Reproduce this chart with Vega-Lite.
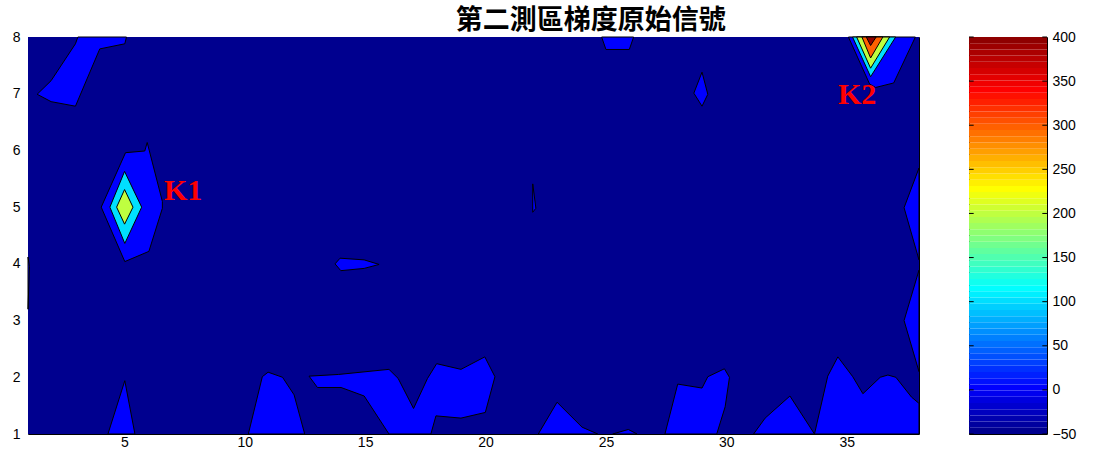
{
  "$schema": "https://vega.github.io/schema/vega-lite/v6.json",
  "padding": {"left": 11, "top": 6, "right": 0, "bottom": 0},
  "background": "white",
  "title": {
    "text": "第二測區梯度原始信號",
    "font": "Noto Sans CJK TC",
    "fontSize": 27,
    "fontWeight": "bold",
    "color": "black",
    "anchor": "start",
    "frame": "bounds",
    "dx": 444,
    "offset": -5
  },
  "datasets": {
    "contours": [
      {"p": "B0", "i": 0, "x": 1, "y": 1, "lvl": -50},
      {"p": "B0", "i": 1, "x": 38, "y": 1, "lvl": -50},
      {"p": "B0", "i": 2, "x": 38, "y": 8, "lvl": -50},
      {"p": "B0", "i": 3, "x": 1, "y": 8, "lvl": -50},

      {"p": "P1", "i": 0, "x": 3.07, "y": 8, "lvl": 0},
      {"p": "P1", "i": 1, "x": 2.97, "y": 7.88, "lvl": 0},
      {"p": "P1", "i": 2, "x": 1.96, "y": 7.23, "lvl": 0},
      {"p": "P1", "i": 3, "x": 1.38, "y": 6.99, "lvl": 0},
      {"p": "P1", "i": 4, "x": 1.96, "y": 6.86, "lvl": 0},
      {"p": "P1", "i": 5, "x": 2.97, "y": 6.78, "lvl": 0},
      {"p": "P1", "i": 6, "x": 3.98, "y": 7.79, "lvl": 0},
      {"p": "P1", "i": 7, "x": 5.02, "y": 7.88, "lvl": 0},
      {"p": "P1", "i": 8, "x": 5.09, "y": 8, "lvl": 0},

      {"p": "P2", "i": 0, "x": 5.05, "y": 5.96, "lvl": 0},
      {"p": "P2", "i": 1, "x": 5.85, "y": 5.99, "lvl": 0},
      {"p": "P2", "i": 2, "x": 5.95, "y": 6.14, "lvl": 0},
      {"p": "P2", "i": 3, "x": 6.58, "y": 5.1, "lvl": 0},
      {"p": "P2", "i": 4, "x": 6.58, "y": 4.98, "lvl": 0},
      {"p": "P2", "i": 5, "x": 6.02, "y": 4.22, "lvl": 0},
      {"p": "P2", "i": 6, "x": 5.02, "y": 4.04, "lvl": 0},
      {"p": "P2", "i": 7, "x": 4.04, "y": 5.0, "lvl": 0},

      {"p": "P3", "i": 0, "x": 4.32, "y": 1, "lvl": 0},
      {"p": "P3", "i": 1, "x": 5.02, "y": 1.94, "lvl": 0},
      {"p": "P3", "i": 2, "x": 5.44, "y": 1, "lvl": 0},

      {"p": "P4", "i": 0, "x": 10.15, "y": 1, "lvl": 0},
      {"p": "P4", "i": 1, "x": 10.73, "y": 2.01, "lvl": 0},
      {"p": "P4", "i": 2, "x": 10.97, "y": 2.09, "lvl": 0},
      {"p": "P4", "i": 3, "x": 11.57, "y": 2.0, "lvl": 0},
      {"p": "P4", "i": 4, "x": 12.05, "y": 1.69, "lvl": 0},
      {"p": "P4", "i": 5, "x": 12.49, "y": 1, "lvl": 0},

      {"p": "P5", "i": 0, "x": 12.67, "y": 2.02, "lvl": 0},
      {"p": "P5", "i": 1, "x": 13.9, "y": 2.05, "lvl": 0},
      {"p": "P5", "i": 2, "x": 15.99, "y": 2.14, "lvl": 0},
      {"p": "P5", "i": 3, "x": 16.37, "y": 1.98, "lvl": 0},
      {"p": "P5", "i": 4, "x": 17.01, "y": 1.45, "lvl": 0},
      {"p": "P5", "i": 5, "x": 17.59, "y": 1.98, "lvl": 0},
      {"p": "P5", "i": 6, "x": 17.97, "y": 2.24, "lvl": 0},
      {"p": "P5", "i": 7, "x": 18.98, "y": 2.14, "lvl": 0},
      {"p": "P5", "i": 8, "x": 19.97, "y": 2.36, "lvl": 0},
      {"p": "P5", "i": 9, "x": 20.39, "y": 2.01, "lvl": 0},
      {"p": "P5", "i": 10, "x": 19.99, "y": 1.38, "lvl": 0},
      {"p": "P5", "i": 11, "x": 18.98, "y": 1.28, "lvl": 0},
      {"p": "P5", "i": 12, "x": 17.94, "y": 1.32, "lvl": 0},
      {"p": "P5", "i": 13, "x": 17.73, "y": 1, "lvl": 0},
      {"p": "P5", "i": 14, "x": 15.99, "y": 1, "lvl": 0},
      {"p": "P5", "i": 15, "x": 14.96, "y": 1.67, "lvl": 0},
      {"p": "P5", "i": 16, "x": 14.0, "y": 1.82, "lvl": 0},
      {"p": "P5", "i": 17, "x": 13.02, "y": 1.82, "lvl": 0},

      {"p": "P6", "i": 0, "x": 22.19, "y": 1, "lvl": 0},
      {"p": "P6", "i": 1, "x": 22.97, "y": 1.56, "lvl": 0},
      {"p": "P6", "i": 2, "x": 24.01, "y": 1.12, "lvl": 0},
      {"p": "P6", "i": 3, "x": 24.66, "y": 1, "lvl": 0},

      {"p": "P7", "i": 0, "x": 25.28, "y": 1, "lvl": 0},
      {"p": "P7", "i": 1, "x": 25.93, "y": 1.08, "lvl": 0},
      {"p": "P7", "i": 2, "x": 26.29, "y": 1, "lvl": 0},

      {"p": "P8", "i": 0, "x": 27.45, "y": 1, "lvl": 0},
      {"p": "P8", "i": 1, "x": 27.98, "y": 1.88, "lvl": 0},
      {"p": "P8", "i": 2, "x": 28.99, "y": 1.81, "lvl": 0},
      {"p": "P8", "i": 3, "x": 29.23, "y": 2.01, "lvl": 0},
      {"p": "P8", "i": 4, "x": 29.92, "y": 2.15, "lvl": 0},
      {"p": "P8", "i": 5, "x": 30.13, "y": 2.0, "lvl": 0},
      {"p": "P8", "i": 6, "x": 29.95, "y": 1.48, "lvl": 0},
      {"p": "P8", "i": 7, "x": 29.6, "y": 1, "lvl": 0},

      {"p": "P9", "i": 0, "x": 31.13, "y": 1, "lvl": 0},
      {"p": "P9", "i": 1, "x": 31.61, "y": 1.28, "lvl": 0},
      {"p": "P9", "i": 2, "x": 32.64, "y": 1.67, "lvl": 0},
      {"p": "P9", "i": 3, "x": 33.66, "y": 1, "lvl": 0},

      {"p": "P10", "i": 0, "x": 33.66, "y": 1, "lvl": 0},
      {"p": "P10", "i": 1, "x": 34.21, "y": 2.02, "lvl": 0},
      {"p": "P10", "i": 2, "x": 34.63, "y": 2.36, "lvl": 0},
      {"p": "P10", "i": 3, "x": 35.25, "y": 2.01, "lvl": 0},
      {"p": "P10", "i": 4, "x": 35.67, "y": 1.71, "lvl": 0},
      {"p": "P10", "i": 5, "x": 36.39, "y": 2.0, "lvl": 0},
      {"p": "P10", "i": 6, "x": 36.71, "y": 2.04, "lvl": 0},
      {"p": "P10", "i": 7, "x": 37.04, "y": 2.0, "lvl": 0},
      {"p": "P10", "i": 8, "x": 37.69, "y": 1.65, "lvl": 0},
      {"p": "P10", "i": 9, "x": 38, "y": 1.54, "lvl": 0},
      {"p": "P10", "i": 10, "x": 38, "y": 1, "lvl": 0},

      {"p": "P11", "i": 0, "x": 38, "y": 5.69, "lvl": 0},
      {"p": "P11", "i": 1, "x": 37.38, "y": 4.99, "lvl": 0},
      {"p": "P11", "i": 2, "x": 38, "y": 4.07, "lvl": 0},

      {"p": "P12", "i": 0, "x": 38, "y": 3.89, "lvl": 0},
      {"p": "P12", "i": 1, "x": 37.38, "y": 3.0, "lvl": 0},
      {"p": "P12", "i": 2, "x": 38, "y": 2.1, "lvl": 0},

      {"p": "P13", "i": 0, "x": 13.75, "y": 4.0, "lvl": 0},
      {"p": "P13", "i": 1, "x": 13.96, "y": 4.1, "lvl": 0},
      {"p": "P13", "i": 2, "x": 14.96, "y": 4.07, "lvl": 0},
      {"p": "P13", "i": 3, "x": 15.58, "y": 3.99, "lvl": 0},
      {"p": "P13", "i": 4, "x": 14.96, "y": 3.92, "lvl": 0},
      {"p": "P13", "i": 5, "x": 13.99, "y": 3.88, "lvl": 0},

      {"p": "P14", "i": 0, "x": 21.96, "y": 5.41, "lvl": 0},
      {"p": "P14", "i": 1, "x": 22.09, "y": 4.98, "lvl": 0},
      {"p": "P14", "i": 2, "x": 21.96, "y": 4.91, "lvl": 0},

      {"p": "P15", "i": 0, "x": 24.82, "y": 8, "lvl": 0},
      {"p": "P15", "i": 1, "x": 25.0, "y": 7.78, "lvl": 0},
      {"p": "P15", "i": 2, "x": 25.97, "y": 7.78, "lvl": 0},
      {"p": "P15", "i": 3, "x": 26.15, "y": 8, "lvl": 0},

      {"p": "P16", "i": 0, "x": 28.99, "y": 7.38, "lvl": 0},
      {"p": "P16", "i": 1, "x": 29.23, "y": 6.99, "lvl": 0},
      {"p": "P16", "i": 2, "x": 28.99, "y": 6.78, "lvl": 0},
      {"p": "P16", "i": 3, "x": 28.65, "y": 7.01, "lvl": 0},

      {"p": "P17", "i": 0, "x": 35.07, "y": 8, "lvl": 0},
      {"p": "P17", "i": 1, "x": 35.95, "y": 7.17, "lvl": 0},
      {"p": "P17", "i": 2, "x": 36.2, "y": 7.11, "lvl": 0},
      {"p": "P17", "i": 3, "x": 36.95, "y": 7.19, "lvl": 0},
      {"p": "P17", "i": 4, "x": 37.85, "y": 8, "lvl": 0},

      {"p": "P18", "i": 0, "x": 1, "y": 4.12, "lvl": 0},
      {"p": "P18", "i": 1, "x": 1.06, "y": 3.95, "lvl": 0},
      {"p": "P18", "i": 2, "x": 1, "y": 3.2, "lvl": 0},

      {"p": "C1", "i": 0, "x": 5.01, "y": 5.63, "lvl": 100},
      {"p": "C1", "i": 1, "x": 5.72, "y": 5.0, "lvl": 100},
      {"p": "C1", "i": 2, "x": 5.02, "y": 4.36, "lvl": 100},
      {"p": "C1", "i": 3, "x": 4.4, "y": 5.0, "lvl": 100},

      {"p": "C2", "i": 0, "x": 35.24, "y": 8, "lvl": 100},
      {"p": "C2", "i": 1, "x": 35.99, "y": 7.3, "lvl": 100},
      {"p": "C2", "i": 2, "x": 37.03, "y": 8, "lvl": 100},

      {"p": "Y1", "i": 0, "x": 5.01, "y": 5.31, "lvl": 200},
      {"p": "Y1", "i": 1, "x": 5.36, "y": 5.0, "lvl": 200},
      {"p": "Y1", "i": 2, "x": 5.01, "y": 4.7, "lvl": 200},
      {"p": "Y1", "i": 3, "x": 4.68, "y": 5.0, "lvl": 200},

      {"p": "Y2", "i": 0, "x": 35.41, "y": 8, "lvl": 200},
      {"p": "Y2", "i": 1, "x": 35.99, "y": 7.45, "lvl": 200},
      {"p": "Y2", "i": 2, "x": 36.78, "y": 8, "lvl": 200},

      {"p": "O1", "i": 0, "x": 35.63, "y": 8, "lvl": 300},
      {"p": "O1", "i": 1, "x": 35.99, "y": 7.63, "lvl": 300},
      {"p": "O1", "i": 2, "x": 36.5, "y": 8, "lvl": 300},

      {"p": "R1", "i": 0, "x": 35.81, "y": 8, "lvl": 400},
      {"p": "R1", "i": 1, "x": 35.99, "y": 7.85, "lvl": 400},
      {"p": "R1", "i": 2, "x": 36.22, "y": 8, "lvl": 400}
    ],
    "labels": [
      {"t": "K1", "x": 7.44, "y": 5.29},
      {"t": "K2", "x": 35.43, "y": 6.98}
    ],
    "cticks": [
      {"v": -50}, {"v": 0}, {"v": 50}, {"v": 100}, {"v": 150},
      {"v": 200}, {"v": 250}, {"v": 300}, {"v": 350}, {"v": 400}
    ],
    "bands": [
      {"lo": -50, "hi": -42.97}, {"lo": -42.97, "hi": -35.94}, {"lo": -35.94, "hi": -28.91}, {"lo": -28.91, "hi": -21.88},
      {"lo": -21.88, "hi": -14.84}, {"lo": -14.84, "hi": -7.81}, {"lo": -7.81, "hi": -0.78}, {"lo": -0.78, "hi": 6.25},
      {"lo": 6.25, "hi": 13.28}, {"lo": 13.28, "hi": 20.31}, {"lo": 20.31, "hi": 27.34}, {"lo": 27.34, "hi": 34.38},
      {"lo": 34.38, "hi": 41.41}, {"lo": 41.41, "hi": 48.44}, {"lo": 48.44, "hi": 55.47}, {"lo": 55.47, "hi": 62.5},
      {"lo": 62.5, "hi": 69.53}, {"lo": 69.53, "hi": 76.56}, {"lo": 76.56, "hi": 83.59}, {"lo": 83.59, "hi": 90.63},
      {"lo": 90.63, "hi": 97.66}, {"lo": 97.66, "hi": 104.69}, {"lo": 104.69, "hi": 111.72}, {"lo": 111.72, "hi": 118.75},
      {"lo": 118.75, "hi": 125.78}, {"lo": 125.78, "hi": 132.81}, {"lo": 132.81, "hi": 139.84}, {"lo": 139.84, "hi": 146.88},
      {"lo": 146.88, "hi": 153.91}, {"lo": 153.91, "hi": 160.94}, {"lo": 160.94, "hi": 167.97}, {"lo": 167.97, "hi": 175},
      {"lo": 175, "hi": 182.03}, {"lo": 182.03, "hi": 189.06}, {"lo": 189.06, "hi": 196.09}, {"lo": 196.09, "hi": 203.13},
      {"lo": 203.13, "hi": 210.16}, {"lo": 210.16, "hi": 217.19}, {"lo": 217.19, "hi": 224.22}, {"lo": 224.22, "hi": 231.25},
      {"lo": 231.25, "hi": 238.28}, {"lo": 238.28, "hi": 245.31}, {"lo": 245.31, "hi": 252.34}, {"lo": 252.34, "hi": 259.38},
      {"lo": 259.38, "hi": 266.41}, {"lo": 266.41, "hi": 273.44}, {"lo": 273.44, "hi": 280.47}, {"lo": 280.47, "hi": 287.5},
      {"lo": 287.5, "hi": 294.53}, {"lo": 294.53, "hi": 301.56}, {"lo": 301.56, "hi": 308.59}, {"lo": 308.59, "hi": 315.63},
      {"lo": 315.63, "hi": 322.66}, {"lo": 322.66, "hi": 329.69}, {"lo": 329.69, "hi": 336.72}, {"lo": 336.72, "hi": 343.75},
      {"lo": 343.75, "hi": 350.78}, {"lo": 350.78, "hi": 357.81}, {"lo": 357.81, "hi": 364.84}, {"lo": 364.84, "hi": 371.88},
      {"lo": 371.88, "hi": 378.91}, {"lo": 378.91, "hi": 385.94}, {"lo": 385.94, "hi": 392.97}, {"lo": 392.97, "hi": 400}
    ]
  },
  "hconcat": [
    {
      "width": 891,
      "height": 397,
      "layer": [
        {
          "data": {"name": "contours"},
          "transform": [{"filter": "datum.lvl == -50"}],
          "mark": {"type": "line", "interpolate": "linear-closed", "strokeWidth": 0},
          "encoding": {
            "x": {
              "field": "x", "type": "quantitative",
              "scale": {"domain": [1, 38], "nice": false, "zero": false},
              "axis": {"values": [5, 10, 15, 20, 25, 30, 35], "format": "d", "title": null, "grid": false, "ticks": false, "domain": false,
                       "labelFont": "Liberation Sans", "labelFontSize": 14, "labelColor": "black", "labelPadding": 1}
            },
            "y": {
              "field": "y", "type": "quantitative",
              "scale": {"domain": [1, 8], "nice": false, "zero": false},
              "axis": {"values": [1, 2, 3, 4, 5, 6, 7, 8], "format": "d", "title": null, "grid": false, "ticks": false, "domain": false,
                       "labelFont": "Liberation Sans", "labelFontSize": 14, "labelColor": "black", "labelPadding": 8, "minExtent": 0}
            },
            "order": {"field": "i", "type": "quantitative"},
            "detail": {"field": "p", "type": "nominal"},
            "fill": {
              "field": "lvl", "type": "quantitative",
              "scale": {"type": "threshold", "domain": [0, 100, 200, 300, 400],
                        "range": ["#00008F", "#0000FF", "#00DFFF", "#BFFF40", "#FF6000", "#8F0000"]},
              "legend": null
            }
          }
        },
        {
          "data": {"name": "contours"},
          "transform": [{"filter": "datum.lvl >= 0 && datum.lvl < 100"}],
          "mark": {"type": "line", "interpolate": "linear-closed", "stroke": "black", "strokeWidth": 1},
          "encoding": {
            "x": {"field": "x", "type": "quantitative"},
            "y": {"field": "y", "type": "quantitative"},
            "order": {"field": "i", "type": "quantitative"},
            "detail": {"field": "p", "type": "nominal"},
            "fill": {
              "field": "lvl", "type": "quantitative",
              "scale": {"type": "threshold", "domain": [0, 100, 200, 300, 400],
                        "range": ["#00008F", "#0000FF", "#00DFFF", "#BFFF40", "#FF6000", "#8F0000"]},
              "legend": null
            }
          }
        },
        {
          "data": {"name": "contours"},
          "transform": [{"filter": "datum.lvl >= 100 && datum.lvl < 200"}],
          "mark": {"type": "line", "interpolate": "linear-closed", "stroke": "black", "strokeWidth": 1},
          "encoding": {
            "x": {"field": "x", "type": "quantitative"},
            "y": {"field": "y", "type": "quantitative"},
            "order": {"field": "i", "type": "quantitative"},
            "detail": {"field": "p", "type": "nominal"},
            "fill": {
              "field": "lvl", "type": "quantitative",
              "scale": {"type": "threshold", "domain": [0, 100, 200, 300, 400],
                        "range": ["#00008F", "#0000FF", "#00DFFF", "#BFFF40", "#FF6000", "#8F0000"]},
              "legend": null
            }
          }
        },
        {
          "data": {"name": "contours"},
          "transform": [{"filter": "datum.lvl >= 200 && datum.lvl < 300"}],
          "mark": {"type": "line", "interpolate": "linear-closed", "stroke": "black", "strokeWidth": 1},
          "encoding": {
            "x": {"field": "x", "type": "quantitative"},
            "y": {"field": "y", "type": "quantitative"},
            "order": {"field": "i", "type": "quantitative"},
            "detail": {"field": "p", "type": "nominal"},
            "fill": {
              "field": "lvl", "type": "quantitative",
              "scale": {"type": "threshold", "domain": [0, 100, 200, 300, 400],
                        "range": ["#00008F", "#0000FF", "#00DFFF", "#BFFF40", "#FF6000", "#8F0000"]},
              "legend": null
            }
          }
        },
        {
          "data": {"name": "contours"},
          "transform": [{"filter": "datum.lvl >= 300 && datum.lvl < 400"}],
          "mark": {"type": "line", "interpolate": "linear-closed", "stroke": "black", "strokeWidth": 1},
          "encoding": {
            "x": {"field": "x", "type": "quantitative"},
            "y": {"field": "y", "type": "quantitative"},
            "order": {"field": "i", "type": "quantitative"},
            "detail": {"field": "p", "type": "nominal"},
            "fill": {
              "field": "lvl", "type": "quantitative",
              "scale": {"type": "threshold", "domain": [0, 100, 200, 300, 400],
                        "range": ["#00008F", "#0000FF", "#00DFFF", "#BFFF40", "#FF6000", "#8F0000"]},
              "legend": null
            }
          }
        },
        {
          "data": {"name": "contours"},
          "transform": [{"filter": "datum.lvl >= 400"}],
          "mark": {"type": "line", "interpolate": "linear-closed", "stroke": "black", "strokeWidth": 1},
          "encoding": {
            "x": {"field": "x", "type": "quantitative"},
            "y": {"field": "y", "type": "quantitative"},
            "order": {"field": "i", "type": "quantitative"},
            "detail": {"field": "p", "type": "nominal"},
            "fill": {
              "field": "lvl", "type": "quantitative",
              "scale": {"type": "threshold", "domain": [0, 100, 200, 300, 400],
                        "range": ["#00008F", "#0000FF", "#00DFFF", "#BFFF40", "#FF6000", "#8F0000"]},
              "legend": null
            }
          }
        },
        {
          "data": {"name": "labels"},
          "mark": {"type": "text", "font": "Liberation Serif", "fontSize": 30, "fontWeight": "bold", "color": "#FF0000", "align": "center", "baseline": "middle"},
          "encoding": {
            "x": {"field": "x", "type": "quantitative"},
            "y": {"field": "y", "type": "quantitative"},
            "text": {"field": "t", "type": "nominal"}
          }
        }
      ]
    },
    {
      "width": 78,
      "height": 397,
      "layer": [
        {
          "data": {"name": "bands"},
          "mark": {"type": "rect"},
          "encoding": {
            "x": {"datum": 0, "type": "quantitative", "scale": {"domain": [0, 1], "nice": false, "zero": false}, "axis": null},
            "x2": {"datum": 1},
            "y": {"field": "lo", "type": "quantitative", "scale": {"domain": [-50, 400], "nice": false, "zero": false},
                  "axis": {"orient": "right", "values": [-50, 0, 50, 100, 150, 200, 250, 300, 350, 400], "format": "d", "title": null, "grid": false,
                           "domain": false, "ticks": false, "labelPadding": 5,
                           "labelFont": "Liberation Sans", "labelFontSize": 14, "labelColor": "black"}},
            "y2": {"field": "hi"},
            "color": {
              "field": "lo", "type": "quantitative",
              "scale": {"domain": [-50, -0.78, 111.72, 224.22, 336.72, 392.97],
                        "range": ["#00008F", "#0000FF", "#00FFFF", "#FFFF00", "#FF0000", "#8F0000"], "interpolate": "rgb"},
              "legend": null
            }
          }
        },
        {
          "data": {"name": "cticks"},
          "mark": {"type": "rule", "color": "black", "strokeWidth": 1},
          "encoding": {
            "x": {"datum": 0, "type": "quantitative"},
            "x2": {"datum": 0.06},
            "y": {"field": "v", "type": "quantitative"}
          }
        },
        {
          "data": {"name": "cticks"},
          "mark": {"type": "rule", "color": "black", "strokeWidth": 1},
          "encoding": {
            "x": {"datum": 0.94, "type": "quantitative"},
            "x2": {"datum": 1},
            "y": {"field": "v", "type": "quantitative"}
          }
        }
      ]
    }
  ],
  "spacing": 46,
  "config": {
    "view": {"stroke": "black", "strokeWidth": 1}
  }
}
